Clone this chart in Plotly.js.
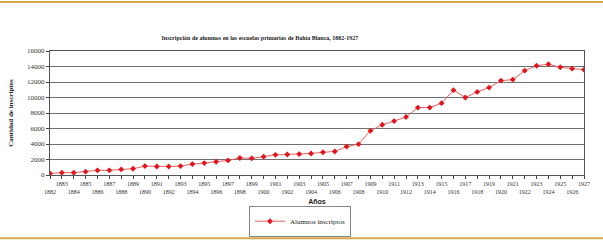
<!DOCTYPE html>
<html>
<head>
<meta charset="utf-8">
<script src="https://cdn.plot.ly/plotly-3.0.1.min.js"></script>
<style>html,body{margin:0;padding:0;background:#fff;}#chart{width:603px;height:242px;}</style>
</head>
<body>
<div id="chart"></div>
<script>
const years = [1882,1883,1884,1885,1886,1887,1888,1889,1890,1891,1892,1893,1894,1895,1896,1897,1898,1899,1900,1901,1902,1903,1904,1905,1906,1907,1908,1909,1910,1911,1912,1913,1914,1915,1916,1917,1918,1919,1920,1921,1922,1923,1924,1925,1926,1927];
const alumnos = [200,300,300,430,600,600,720,810,1150,1100,1100,1150,1410,1540,1710,1880,2200,2150,2370,2600,2650,2700,2770,2940,3030,3670,3980,5700,6490,6960,7480,8700,8700,9270,10950,10000,10720,11280,12180,12300,13460,14100,14290,13900,13720,13590];
const yTicks = [0,2000,4000,6000,8000,10000,12000,14000,16000];
const yTickText = yTicks.map(v => String(v));
const xTickText = years.map(y => (y % 2 === 0 ? '<br>' + y : String(y)));

const serif = 'Liberation Serif, Times New Roman, serif';

Plotly.newPlot('chart', [{
  x: years,
  y: alumnos,
  type: 'scatter',
  mode: 'lines+markers',
  name: 'Alumnos inscriptos',
  line: {color: '#e8605f', width: 1},
  marker: {symbol: 'diamond', size: 4.5, color: '#e3141c'}
}], {
  width: 603,
  height: 242,
  paper_bgcolor: '#ffffff',
  plot_bgcolor: '#ffffff',
  margin: {l: 50, r: 19, t: 51, b: 67},
  title: {
    text: '<b>Inscripción de alumnos en las escuelas primarias de Bahía Blanca, 1882-1927</b>',
    font: {family: serif, size: 6, color: '#222'},
    xref: 'container', x: 0.431, xanchor: 'center', yref: 'container', y: 0.845, yanchor: 'middle'
  },
  xaxis: {
    automargin: false,
    range: [1882, 1927],
    tickmode: 'array',
    tickvals: years,
    ticktext: xTickText,
    tickangle: 0,
    ticks: 'outside',
    ticklen: 3,
    tickcolor: '#444',
    tickfont: {family: serif, size: 6, color: '#333'},
    showgrid: false,
    showline: true,
    linecolor: '#555',
    linewidth: 1,
    mirror: true,
    zeroline: false,
    title: {text: '<b>Años</b>', font: {family: 'Liberation Sans, Arial, sans-serif', size: 7, color: '#222'}, standoff: 5}
  },
  yaxis: {
    automargin: false,
    range: [0, 16000],
    tickmode: 'array',
    tickvals: yTicks,
    ticktext: yTickText,
    ticks: 'outside',
    ticklen: 3,
    tickcolor: '#444',
    tickfont: {family: serif, size: 7, color: '#333'},
    showgrid: true,
    gridcolor: '#707070',
    gridwidth: 1,
    showline: true,
    linecolor: '#555',
    linewidth: 1,
    mirror: true,
    zeroline: false,
    title: {text: '<b>Cantidad de inscriptos</b>', font: {family: serif, size: 7, color: '#222'}, standoff: 12}
  },
  showlegend: true,
  legend: {
    orientation: 'h',
    xref: 'container',
    x: 0.4975, xanchor: 'center',
    yref: 'container',
    y: 0.15, yanchor: 'top',
    itemwidth: 30,
    bordercolor: '#888',
    borderwidth: 1,
    bgcolor: '#fff',
    font: {family: serif, size: 7, color: '#222'}
  },
  shapes: [
    {type: 'line', xref: 'paper', yref: 'paper', x0: -0.1, x1: 1.05, y0: 1.395, y1: 1.395, line: {color: '#d6a84a', width: 2}},
    {type: 'line', xref: 'paper', yref: 'paper', x0: -0.1, x1: 1.05, y0: -0.51, y1: -0.51, line: {color: '#d6a84a', width: 2}}
  ]
}, {displayModeBar: false, staticPlot: true});
</script>
</body>
</html>
